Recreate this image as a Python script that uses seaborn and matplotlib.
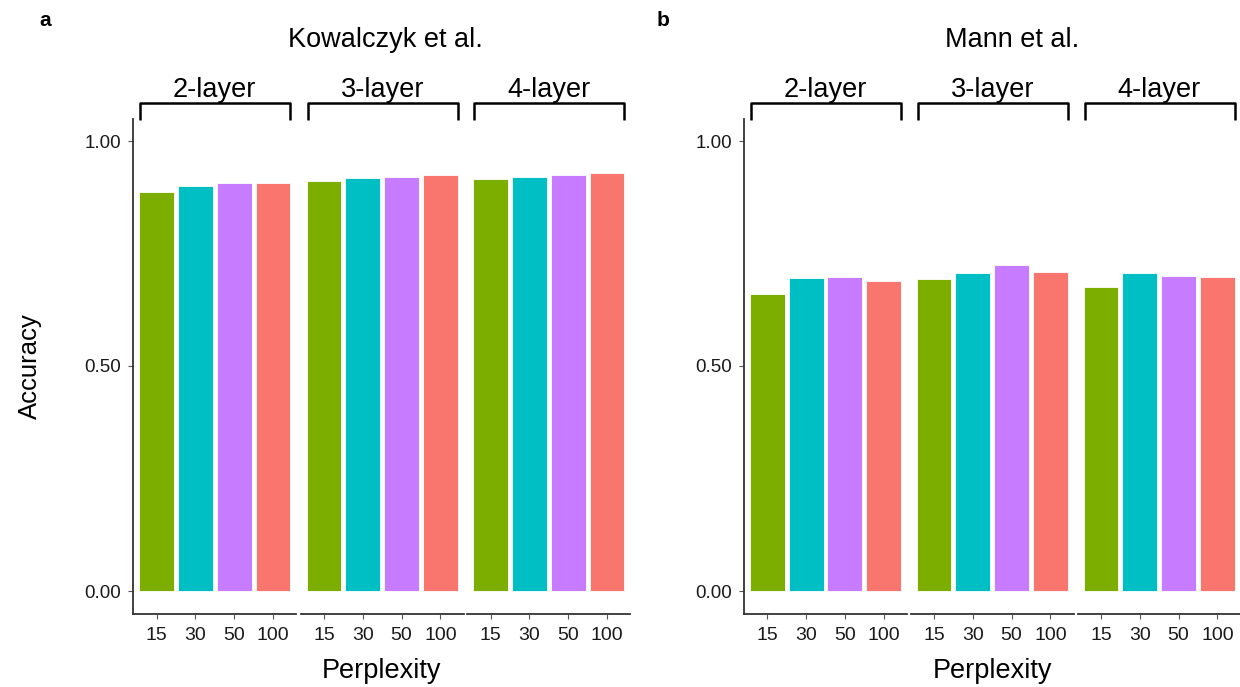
import matplotlib
matplotlib.use("Agg")
import matplotlib.pyplot as plt
import matplotlib.transforms as mtransforms
import seaborn as sns
import pandas as pd

sns.set_theme(style="white")
plt.rcParams['font.family'] = ['Liberation Sans', 'DejaVu Sans']

# ---- data ----
perplexity = ["15", "30", "50", "100"]
layers = ["2-layer", "3-layer", "4-layer"]
datasets = ["Kowalczyk et al.", "Mann et al."]
panel_letters = ["a", "b"]

kowalczyk_2layer = [0.887, 0.899, 0.906, 0.907]
kowalczyk_3layer = [0.911, 0.918, 0.921, 0.924]
kowalczyk_4layer = [0.915, 0.921, 0.925, 0.929]
mann_2layer = [0.660, 0.696, 0.698, 0.690]
mann_3layer = [0.694, 0.706, 0.725, 0.708]
mann_4layer = [0.676, 0.707, 0.700, 0.698]

colors = ["#7CAE00", "#00BFC4", "#C77CFF", "#F8766D"]

values = {
    "Kowalczyk et al.": [kowalczyk_2layer, kowalczyk_3layer, kowalczyk_4layer],
    "Mann et al.": [mann_2layer, mann_3layer, mann_4layer],
}

rows = []
for ds in datasets:
    for layer, vals in zip(layers, values[ds]):
        for p, v in zip(perplexity, vals):
            rows.append({"Dataset": ds, "Layer": layer, "Perplexity": p, "Accuracy": v})
df = pd.DataFrame(rows)

# ---- figure ----
W, H = 1240, 687
fig = plt.figure(figsize=(W / 100, H / 100), dpi=100)

facet_left = {
    "Kowalczyk et al.": [133.3, 300.7, 467.3],
    "Mann et al.": [744.0, 910.7, 1077.7],
}
title_x = {"Kowalczyk et al.": 385, "Mann et al.": 1012}
facet_w = 163.0
ax_top, ax_bot = 118.5, 613.5
line_col = "#333333"
big = 19.5
xtick_fs = 14
ytick_fs = 13.5

for di, ds in enumerate(datasets):
    for li, layer in enumerate(layers):
        x0 = facet_left[ds][li]
        ax = fig.add_axes([x0 / W, (H - ax_bot) / H, facet_w / W, (ax_bot - ax_top) / H])
        sub = df[(df.Dataset == ds) & (df.Layer == layer)]
        sns.barplot(data=sub, x="Perplexity", y="Accuracy", hue="Perplexity",
                    order=perplexity, hue_order=perplexity, palette=colors,
                    saturation=1, width=0.9, legend=False, ax=ax,
                    edgecolor="white", linewidth=0.6)
        ax.set_xlim(-0.6, 3.6)
        ax.set_ylim(-0.05, 1.05)
        ax.set_xlabel("")
        ax.set_ylabel("")
        for s in ["top", "right"]:
            ax.spines[s].set_visible(False)
        ax.spines["bottom"].set_color(line_col)
        ax.spines["bottom"].set_linewidth(1.3)
        ax.tick_params(axis="x", bottom=True, length=3.5, width=0.8, color="#555555",
                       labelsize=xtick_fs, labelcolor="#1a1a1a", pad=6)
        if li == 0:
            ax.spines["left"].set_color(line_col)
            ax.spines["left"].set_linewidth(1.3)
            ax.set_yticks([0.0, 0.5, 1.0])
            ax.set_yticklabels(["0.00", "0.50", "1.00"])
            ax.tick_params(axis="y", left=True, length=3.5, width=0.8, color="#555555",
                           labelsize=ytick_fs, labelcolor="#1a1a1a", pad=5)
        else:
            ax.spines["left"].set_visible(False)
            ax.set_yticks([])
        ax.grid(False)
        # bracket strip
        tr = mtransforms.blended_transform_factory(ax.transData, ax.transAxes)
        yb_top = 1 + (ax_top - 102.7) / (ax_bot - ax_top)
        yb_leg = 1 + (ax_top - 119.5) / (ax_bot - ax_top)
        ax.plot([-0.42, -0.42, 3.45, 3.45], [yb_leg, yb_top, yb_top, yb_leg],
                transform=tr, color="black", lw=1.8, clip_on=False,
                solid_joinstyle="round", solid_capstyle="butt")
        ax.text(1.5, 1 + (ax_top - 97.0) / (ax_bot - ax_top), layer, transform=tr,
                ha="center", va="baseline", fontsize=big, color="black")

    # panel title, letter, axis labels
    cx = (facet_left[ds][0] + facet_left[ds][2] + facet_w) / 2
    fig.text(title_x[ds] / W, 1 - 40 / H, ds, ha="center", va="center",
             fontsize=big, color="black")
    lx = 45 if di == 0 else 663
    fig.text(lx / W, 1 - 20 / H, panel_letters[di], ha="center", va="center",
             fontsize=15, fontweight="bold", color="black")
    fig.text(cx / W, 1 - 671 / H, "Perplexity", ha="center", va="center",
             fontsize=big, color="black")

fig.text(30 / W, 1 - 366 / H, "Accuracy", ha="center", va="center", rotation=90,
         fontsize=18.5, color="black")

fig.savefig("out.png", dpi=100, facecolor="white")
